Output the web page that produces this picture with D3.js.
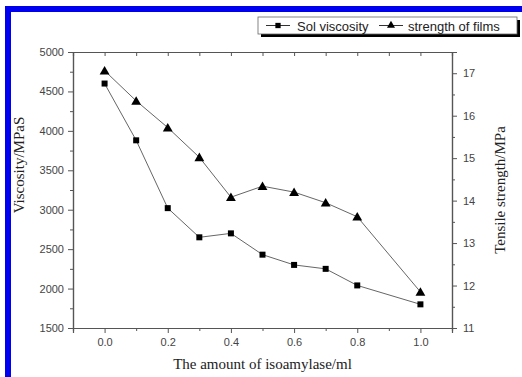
<!DOCTYPE html>
<html>
<head>
<meta charset="utf-8">
<script src="https://cdn.jsdelivr.net/npm/d3@7"></script>
<style>
  body { margin: 0; background: #fff; }
  .tick text { font-family: "Liberation Sans", Arial, sans-serif; font-size: 11px; fill: #444; }
  .domain, .tick line { stroke: #555; }
</style>
</head>
<body>
<div class="chart"></div>
<script>
const amount = [0.0, 0.1, 0.2, 0.3, 0.4, 0.5, 0.6, 0.7, 0.8, 1.0];
const viscosity = [4600, 3880, 3020, 2650, 2700, 2430, 2300, 2250, 2040, 1800];
const strength = [17.06, 16.35, 15.72, 15.02, 14.08, 14.34, 14.2, 13.95, 13.62, 11.85];
const xTicks = [0.0, 0.2, 0.4, 0.6, 0.8, 1.0];
const leftTicks = [1500, 2000, 2500, 3000, 3500, 4000, 4500, 5000];
const rightTicks = [11, 12, 13, 14, 15, 16, 17];

const width = 522, height = 377;
const plot = { left: 73, right: 452, top: 52, bottom: 328 };

const svg = d3.select(".chart")
    .append("svg")
    .attr("width", width)
    .attr("height", height);

// blue frame (top and left edges)
svg.append("rect").attr("x", 5).attr("y", 6).attr("width", width - 5).attr("height", 6).attr("fill", "#0000f0");
svg.append("rect").attr("x", 5).attr("y", 6).attr("width", 6).attr("height", height - 6).attr("fill", "#0000f0");

const x = d3.scaleLinear().domain([-0.1, 1.1]).range([plot.left, plot.right]);
const yL = d3.scaleLinear().domain([1500, 5000]).range([plot.bottom, plot.top]);
const yR = d3.scaleLinear().domain([11, 17.5]).range([plot.bottom, plot.top]);

const minorX = d3.range(0.1, 1.0, 0.2);
const minorL = d3.range(1750, 5000, 500);
const minorR = d3.range(11.5, 17.5, 1);

// bottom axis
svg.append("g").attr("transform", `translate(0,${plot.bottom})`)
    .call(d3.axisBottom(x).tickValues(minorX).tickSize(3).tickFormat(""));
svg.append("g").attr("transform", `translate(0,${plot.bottom})`)
    .call(d3.axisBottom(x).tickValues(xTicks).tickSize(5).tickPadding(5).tickFormat(d3.format(".1f")));

// top axis, ticks inward
svg.append("g").attr("transform", `translate(0,${plot.top})`)
    .call(d3.axisTop(x).tickValues(xTicks.concat(minorX)).tickSize(-4).tickFormat(""));

// left axis
svg.append("g").attr("transform", `translate(${plot.left},0)`)
    .call(d3.axisLeft(yL).tickValues(minorL).tickSize(3).tickFormat(""));
svg.append("g").attr("transform", `translate(${plot.left},0)`)
    .call(d3.axisLeft(yL).tickValues(leftTicks).tickSize(5).tickPadding(4).tickFormat(d3.format("d")));

// right axis
svg.append("g").attr("transform", `translate(${plot.right},0)`)
    .call(d3.axisRight(yR).tickValues(minorR).tickSize(3).tickFormat(""));
svg.append("g").attr("transform", `translate(${plot.right},0)`)
    .call(d3.axisRight(yR).tickValues(rightTicks).tickSize(5).tickPadding(6).tickFormat(d3.format("d")));

svg.selectAll(".domain").attr("stroke-width", 1.2);

// axis titles
svg.append("text")
    .attr("x", (plot.left + plot.right) / 2).attr("y", 369)
    .attr("text-anchor", "middle")
    .style("font-family", "'Liberation Serif', 'Times New Roman', serif")
    .style("font-size", "15px").attr("fill", "#222")
    .text("The amount of isoamylase/ml");

svg.append("text")
    .attr("transform", "translate(24,165) rotate(-90)")
    .attr("text-anchor", "middle")
    .style("font-family", "'Liberation Serif', 'Times New Roman', serif")
    .style("font-size", "15px").attr("fill", "#222")
    .text("Viscosity/MPaS");

svg.append("text")
    .attr("transform", "translate(505,190) rotate(-90)")
    .attr("text-anchor", "middle")
    .style("font-family", "'Liberation Serif', 'Times New Roman', serif")
    .style("font-size", "15px").attr("fill", "#222")
    .text("Tensile strength/MPa");

// series lines
const rows = amount.map((a, i) => ({ a: a, v: viscosity[i], s: strength[i] }));

svg.append("path").datum(rows)
    .attr("fill", "none").attr("stroke", "#666").attr("stroke-width", 1)
    .attr("d", d3.line().x(d => x(d.a)).y(d => yL(d.v)));

svg.append("path").datum(rows)
    .attr("fill", "none").attr("stroke", "#666").attr("stroke-width", 1)
    .attr("d", d3.line().x(d => x(d.a)).y(d => yR(d.s)));

const square = d3.symbol().type(d3.symbolSquare).size(36);
const triangle = d3.symbol().type(d3.symbolTriangle).size(42);

svg.selectAll(".sq").data(rows).enter().append("path")
    .attr("class", "sq")
    .attr("transform", d => `translate(${x(d.a)},${yL(d.v)})`)
    .attr("d", square).attr("fill", "#000");

svg.selectAll(".tri").data(rows).enter().append("path")
    .attr("class", "tri")
    .attr("transform", d => `translate(${x(d.a)},${yR(d.s) + 1})`)
    .attr("d", triangle).attr("fill", "#000");

// legend with shadow
const lg = svg.append("g");
lg.append("rect").attr("x", 261).attr("y", 20).attr("width", 259).attr("height", 17).attr("fill", "#000");
lg.append("rect").attr("x", 258).attr("y", 17).attr("width", 259).attr("height", 17)
    .attr("fill", "#fff").attr("stroke", "#666").attr("stroke-width", 0.8);

const legendItems = [
    { label: "Sol viscosity", sym: square, x0: 266, text: 297 },
    { label: "strength of films", sym: triangle, x0: 379, text: 408 }
];
legendItems.forEach(item => {
    lg.append("line").attr("x1", item.x0).attr("x2", item.x0 + 24)
        .attr("y1", 25.5).attr("y2", 25.5).attr("stroke", "#333").attr("stroke-width", 1);
    lg.append("path").attr("transform", `translate(${item.x0 + 12},25.5)`)
        .attr("d", item.sym.size(28)).attr("fill", "#000");
    lg.append("text").attr("x", item.text).attr("y", 30.5)
        .style("font-family", "'Liberation Sans', Arial, sans-serif")
        .style("font-size", "13px").attr("fill", "#222")
        .text(item.label);
});
</script>
</body>
</html>
